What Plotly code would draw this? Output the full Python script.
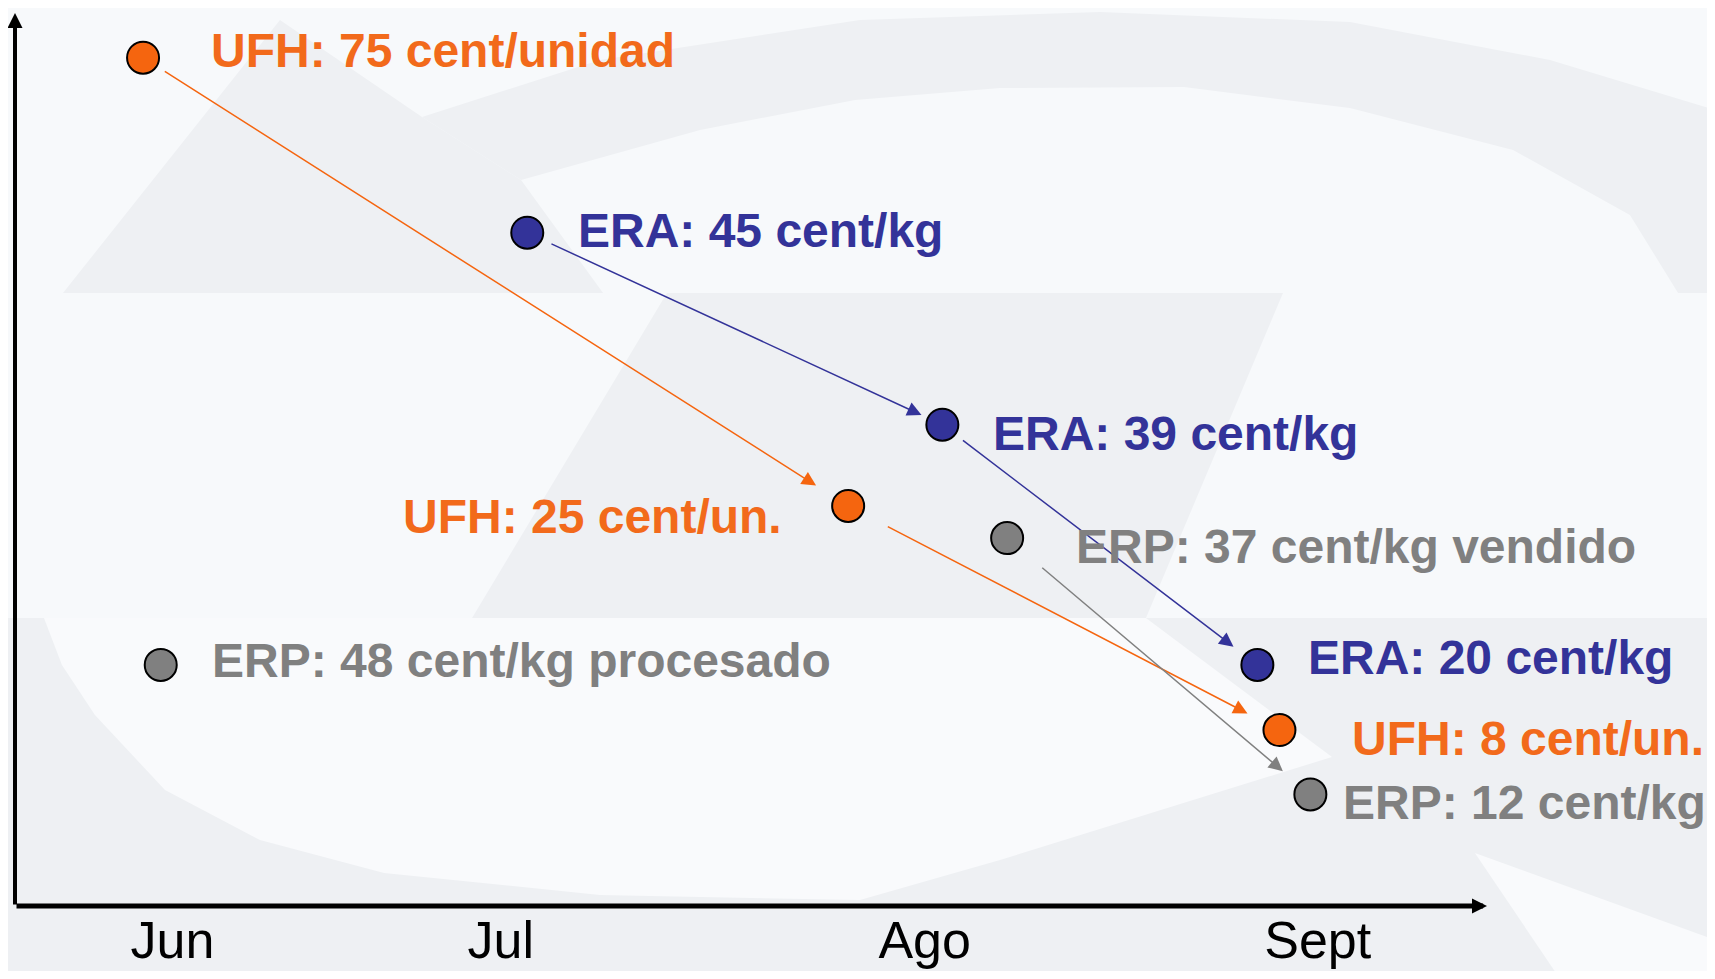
import plotly.graph_objects as go

# ---------------- data ----------------
series = ["UFH", "ERA", "ERA", "UFH", "ERP", "ERP", "ERA", "UFH", "ERP"]
labels = [
    "UFH: 75 cent/unidad",
    "ERA: 45 cent/kg",
    "ERA: 39 cent/kg",
    "UFH: 25 cent/un.",
    "ERP: 37 cent/kg vendido",
    "ERP: 48 cent/kg procesado",
    "ERA: 20 cent/kg",
    "UFH: 8 cent/un.",
    "ERP: 12 cent/kg",
]
x_pos = [8.7, 34.8, 63.0, 56.6, 67.4, 9.9, 84.4, 85.9, 88.0]
y_pos = [95.0, 75.4, 53.9, 44.8, 41.2, 27.0, 27.0, 19.7, 12.5]

months = ["Jun", "Jul", "Ago", "Sept"]
month_pos = [10.7, 33.0, 61.8, 88.5]

# arrows: (from index, to index)
arrow_from = [0, 1, 2, 3, 4]
arrow_to = [3, 2, 6, 7, 8]

# ---------------- styles ----------------
colors = {"UFH": "#F5650F", "ERA": "#333399", "ERP": "#808080"}
text_colors = {"UFH": "#F26A1B", "ERA": "#333399", "ERP": "#808080"}
label_anchor = ["left", "left", "left", "right", "left", "left", "left", "left", "left"]
label_xshift = [66, 49, 49, -64, 67, 49, 49, 71, 31]
label_yshift = [7, 2, -9, -11, -8, 4, 7, -8, -8]
arrow_start_gap = [24, 25, 24, 43, 44]
arrow_end_gap = [38, 23, 30, 36, 36]

# page body has an 8px margin: the figure is sized/placed to compensate
OFF = 8
W, H = 1715 - 2 * OFF, 979 - 2 * OFF
ML, MT = 15 - OFF, 13 - OFF
PW, PH = 1472, 893
MR = W - ML - PW
MB = H - MT - PH
FONT = "Liberation Sans, Arial, sans-serif"

BG = "#F7F9FB"
GRAY = "#EEF0F3"
LIGHT = "#F9FAFC"


def P(sx, sy):
    """screen pixel -> paper coordinates"""
    return ((sx - OFF - ML) / PW, 1 - (sy - OFF - MT) / PH)


def poly(points, color):
    pts = [P(*p) for p in points]
    path = "M " + " L ".join(f"{x:.4f},{y:.4f}" for x, y in pts) + " Z"
    return dict(type="path", path=path, xref="paper", yref="paper",
                fillcolor=color, line=dict(width=0), layer="below")


# faint watermark in the background
shapes = [
    poly([(63, 293), (280, 20), (422, 117), (521, 180), (603, 293)], GRAY),
    poly([(422, 117), (600, 60), (860, 20), (1100, 12), (1350, 22), (1550, 60),
          (1715, 110), (1715, 293), (1678, 293), (1630, 215), (1513, 150),
          (1350, 108), (1184, 87), (1000, 88), (855, 100), (700, 130), (521, 180)], GRAY),
    poly([(667, 293), (1283, 293), (1146, 618), (472, 618)], GRAY),
    poly([(0, 618), (1715, 618), (1715, 979), (0, 979)], GRAY),
    poly([(44, 618), (62, 665), (95, 715), (165, 790), (260, 840), (384, 873),
          (600, 895), (860, 900), (1000, 860), (1332, 757), (1146, 618)], LIGHT),
    poly([(1475, 853), (1715, 940), (1715, 979), (1560, 979)], LIGHT),
]

fig = go.Figure()

fig.add_trace(go.Scatter(
    x=x_pos, y=y_pos, mode="markers",
    marker=dict(size=32, color=[colors[s] for s in series],
                line=dict(color="black", width=2)),
    hoverinfo="skip", showlegend=False, cliponaxis=False,
))

annotations = []
# axis arrows
annotations.append(dict(x=100, y=0, ax=0, ay=0, xref="x", yref="y", axref="x", ayref="y",
                        text="", showarrow=True, arrowhead=2, arrowsize=0.6,
                        arrowwidth=5, arrowcolor="black"))
annotations.append(dict(x=0, y=100, ax=0, ay=0, xref="x", yref="y", axref="x", ayref="y",
                        text="", showarrow=True, arrowhead=2, arrowsize=0.75,
                        arrowwidth=4, arrowcolor="black"))

# data arrows
for i, (a, b) in enumerate(zip(arrow_from, arrow_to)):
    annotations.append(dict(
        x=x_pos[b], y=y_pos[b], ax=x_pos[a], ay=y_pos[a],
        xref="x", yref="y", axref="x", ayref="y", text="",
        showarrow=True, arrowhead=2, arrowsize=1.9, arrowwidth=1.5,
        arrowcolor=colors[series[a]],
        standoff=arrow_end_gap[i], startstandoff=arrow_start_gap[i],
    ))

# labels
for i, t in enumerate(labels):
    annotations.append(dict(
        x=x_pos[i], y=y_pos[i], xref="x", yref="y", text=t, showarrow=False,
        xanchor=label_anchor[i], yanchor="middle",
        xshift=label_xshift[i], yshift=label_yshift[i],
        font=dict(family=FONT, size=48, color=text_colors[series[i]], weight="bold"),
    ))

fig.update_layout(
    width=W, height=H,
    margin=dict(l=ML, r=MR, t=MT, b=MB, pad=0, autoexpand=False),
    paper_bgcolor=BG, plot_bgcolor="rgba(0,0,0,0)",
    shapes=shapes,
    annotations=annotations,
    xaxis=dict(range=[0, 100], showgrid=False, zeroline=False, showline=False,
               automargin=False,
               tickvals=month_pos, ticktext=months, ticks="", ticklabelstandoff=-1,
               tickfont=dict(family=FONT, size=52, color="black"), fixedrange=True),
    yaxis=dict(range=[0, 100], showgrid=False, zeroline=False, showline=False,
               automargin=False, showticklabels=False, fixedrange=True),
)

fig.write_html("out.html")
